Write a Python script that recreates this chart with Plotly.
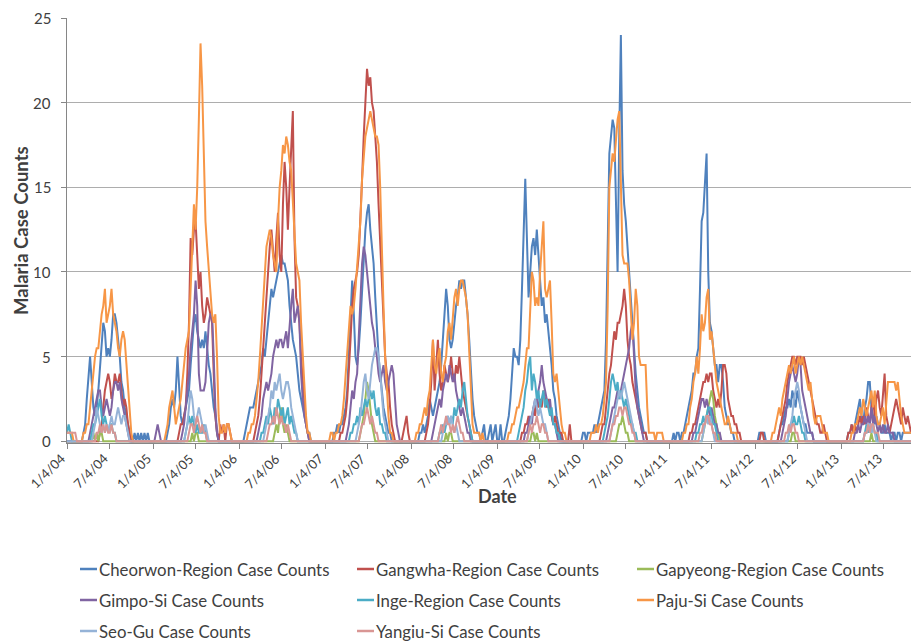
import datetime as dt
import plotly.graph_objects as go

# Weekly malaria case counts, one value per week starting Sunday 2004-01-04.
# Each series is given as (first week index, consecutive weekly values);
# weeks not listed had no cases.
N_WEEKS = 513
START = dt.date(2004, 1, 4)
END = dt.date(2013, 10, 27)

TICK_LABELS = ["1/4/04", "7/4/04", "1/4/05", "7/4/05", "1/4/06", "7/4/06",
               "1/4/07", "7/4/07", "1/4/08", "7/4/08", "1/4/09", "7/4/09",
               "1/4/10", "7/4/10", "1/4/11", "7/4/11", "1/4/12", "7/4/12",
               "1/4/13", "7/4/13"]
Y_TICKS = [0, 5, 10, 15, 20, 25]

SERIES_NAMES = ["Cheorwon-Region Case Counts", "Gangwha-Region Case Counts",
                "Gapyeong-Region Case Counts", "Gimpo-Si Case Counts",
                "Inge-Region Case Counts", "Paju-Si Case Counts",
                "Seo-Gu Case Counts", "Yangiu-Si Case Counts"]

SERIES_COLORS = ["#4F81BD", "#C0504D", "#9BBB59", "#8064A2",
                 "#4BACC6", "#F79646", "#95B3D7", "#D99694"]

CHEORWON = [
    (10, [0.5, 1, 2.5, 4, 5, 3.5, 2, 1.5, 2, 3, 4.5, 5.5, 7, 6.5, 5, 5.5, 5, 6, 7.5, 7.5,
          7, 6, 5, 3.5, 3, 2, 1.5, 1, 0.5, 0, 0, 0.5, 0, 0.5, 0, 0.5, 0, 0.5, 0, 0.5]),
    (60, [0, 0.5, 1, 2, 2.5, 2, 3, 5, 3.5, 1.5, 1, 1.5, 2, 2.5, 3, 4.5, 6, 7, 7.5, 6.5,
          6, 5.5, 6, 5.5, 6.5, 5.5, 4.5, 4, 3, 2, 1.5, 0.5, 0]),
    (108, [0.5, 1, 1.5, 2, 2, 2, 2.5, 3, 3.5, 4, 4.5, 5.5, 5, 6, 7, 8, 9, 8.5, 9, 9.5,
           10, 10.5, 11, 10.5, 10.5, 10, 9.5, 8, 7, 6, 5.5, 5, 4, 3, 2.5, 2, 1.5, 1, 0.5, 0.5, 0]),
    (162, [0.5, 0.5, 1, 0.5, 1, 1, 1.5, 2, 3, 5, 7, 9.5, 7.5, 5, 4.5, 5.5, 7, 9, 11, 12.5,
           13.5, 14, 12.5, 11.5, 10.5, 8.5, 6.5, 5, 4, 3, 2, 1.5, 1, 0.5, 0.5, 0]),
    (214, [0.5, 0.5, 1, 0.5, 1, 1.5, 2.5, 2, 1.5, 2, 2.5, 3, 3.5, 4.5, 6, 7.5, 9, 8, 6, 5.5,
           6, 7, 8, 8.5, 9.5, 9, 9.5, 9.5, 8.5, 7.5, 6, 4, 2.5, 1.5, 1, 0.5, 0.5, 0, 0.5, 1,
           0, 0, 0.5, 1, 0, 0.5, 1, 0, 0, 1, 0]),
    (266, [0.5, 1, 1.5, 2.5, 4, 5.5, 5, 5, 4.5, 6, 9, 13, 15.5, 12, 8.5, 10, 11.5, 12, 11, 12.5,
           11, 9, 8, 8.5, 7, 7.5, 6.5, 5.5, 4.5, 3, 2.5, 1.5, 1, 0.5, 0]),
    (313, [0.5, 0.5, 0, 0.5, 0.5, 0.5, 0.5, 1, 0.5, 1, 1.5, 2, 2.5, 3, 6, 12, 17, 18, 19, 18.5,
           14, 10, 18, 24, 16, 14, 13, 11.5, 9.5, 8, 6.5, 5, 4, 3, 2, 1.5, 1, 0.5, 0.5, 0]),
    (368, [0.5, 0, 0.5, 0.5, 0, 0.5, 0.5, 1, 1.5, 2, 2.5, 3, 4, 4, 5, 5.5, 9, 13, 13.5, 15,
           17, 10, 7, 6.5, 5.5, 4.5, 4.5, 3.5, 4.5, 4.5, 3.5, 2, 1.5, 1, 1, 0.5, 0.5, 0]),
    (420, [0.5, 0.5, 0.5, 0.5, 0, 0, 0, 0, 0, 0, 0, 0, 0.5, 1, 1, 1.5, 2, 2, 2.5, 2,
           3, 2.5, 2, 3, 2.5, 2, 1.5, 1, 1, 0.5, 0.5, 0.5, 0.5, 0]),
    (474, [0.5, 0.5, 1, 0.5, 1, 1.5, 2, 2.5, 1.5, 1, 2, 2.5, 3.5, 3.5, 2, 1.5, 1, 1.5, 1, 1,
           0.5, 0.5, 1, 0.5, 0.5, 0.5, 0, 0.5, 0.5, 0, 0.5, 0.5, 0, 0.5, 0.5, 0.5, 0.5, 0.5, 0.5]),
]

GANGWHA = [
    (20, [0.5, 1, 2, 3, 3.5, 4, 3.5, 2.5, 3, 4, 3.5, 3.5, 4, 3, 2, 2.5, 2, 1, 0.5, 0]),
    (68, [0.5, 1, 1, 1.5, 2, 4, 7, 12, 11, 12.5, 13, 11, 9, 10, 8, 7, 7.5, 8.5, 8, 7.5,
          7, 4, 1.5, 0.5, 0, 1, 0.5, 1, 0, 1, 1, 0.5, 0]),
    (114, [0.5, 1, 1.5, 2.5, 4, 6, 7.5, 9, 10.5, 11.5, 12.5, 11, 10, 12, 13.5, 11, 10, 14, 16.5, 15,
           12.5, 15, 17.5, 19.5, 12, 8.5, 8, 7, 5, 3.5, 2, 1, 0.5, 0]),
    (166, [0.5, 0.5, 1, 1.5, 2.5, 4, 6, 8, 9, 9.5, 10, 11, 13, 15.5, 18, 20, 22, 21, 21.5, 20,
           19.5, 18, 16.5, 14, 11.5, 9, 7, 5, 4, 3.5, 2, 1, 0.5, 0, 0, 0, 0, 0, 0.5, 1,
           1.5, 0.5, 0]),
    (218, [0.5, 1, 2, 3.5, 6, 3, 4.5, 6, 4, 3, 3.5, 4.5, 4, 3.5, 4, 5, 4, 3.5, 4.5, 4,
           5, 4, 3, 2.5, 2, 1.5, 1, 0.5, 0]),
    (276, [0.5, 0.5, 1, 1, 1.5, 1, 1.5, 2, 1.5, 2.5, 2, 2.5, 2, 3, 2.5, 2, 2.5, 2, 1.5, 1,
           1.5, 1, 0.5, 0.5, 0.5, 0, 0, 0, 0, 1, 0]),
    (324, [0.5, 1, 1, 2, 3, 4, 4.5, 5.5, 6.5, 6, 7, 7, 7.5, 8, 9, 8, 6, 5, 4.5, 3.5,
           3, 2.5, 2, 1.5, 1, 0.5, 0.5, 0.5, 0]),
    (378, [0.5, 0.5, 1, 1, 1.5, 2, 2.5, 3, 3.5, 3.5, 4, 3.5, 4, 4, 3, 2.5, 2, 2.5, 2, 3,
           4.5, 4.5, 4, 2.5, 2, 1.5, 1.5, 1, 1, 0.5, 0.5, 0]),
    (421, [0.5, 0.5, 0, 0, 0, 0, 0, 0, 0, 0, 0, 0.5, 1, 1.5, 2, 2.5, 3.5, 4, 4.5, 5,
           5, 4.5, 5, 5, 5, 4.5, 5, 4.5, 4, 3.5, 3, 2.5, 2, 1.5, 1, 1, 0.5, 0.5, 1, 0.5, 0]),
    (474, [0.5, 0.5, 1, 0.5, 1, 0.5, 1, 1.5, 1, 1.5, 1, 2, 1.5, 1, 2, 2.5, 1.5, 2.5, 3, 2,
           1.5, 3, 4, 1.5, 1, 0.5, 1, 1.5, 2, 2.5, 2, 1.5, 1, 2, 1.5, 1, 1.5, 1, 0.5]),
]

GAPYEONG = [
    (16, [0.5, 0, 0.5, 0, 0.5, 0.5, 0]),
    (76, [0.5, 0, 0.5, 0.5, 0]),
    (126, [0.5, 1, 0.5, 1.5, 2, 1, 0.5, 1, 0.5, 0]),
    (178, [0.5, 1, 1.5, 2.5, 3.5, 3, 2, 1, 0.5, 0]),
    (230, [0.5, 0, 0.5, 0.5, 0]),
    (282, [0.5, 0.5, 0, 0.5, 0]),
    (334, [0.5, 1, 1, 1.5, 1, 0.5, 0.5, 0]),
    (386, [0.5, 1, 1.5, 2, 2.5, 3, 2.5, 1.5, 1, 0.5, 0]),
    (440, [0.5, 0.5, 0]),
    (488, [0.5, 0]),
]

GIMPO = [
    (14, [0.5, 1, 1.5, 2, 2.5, 3, 3, 2, 1.5, 2, 2.5, 2, 1.5, 2, 3, 3.5, 3.5, 3, 3.5, 2.5,
          2, 1.5, 1, 0.5, 0]),
    (54, [0.5, 1, 0.5, 0]),
    (70, [0.5, 1, 2, 3, 4, 5.5, 6.5, 7.5, 9.5, 8, 4, 3, 3, 3, 3.5, 5, 7, 7.5, 7.5, 5,
          2, 0.5, 0]),
    (116, [0.5, 1, 1.5, 2.5, 3, 3.5, 3, 3.5, 4, 5, 5.5, 6, 5.5, 6, 6, 5.5, 6, 6.5, 5.5, 7,
           8, 9, 7, 7.5, 8, 7, 4, 2.5, 1.5, 1, 0.5, 0]),
    (170, [0.5, 1, 2, 3, 2.5, 3.5, 4, 6, 8.5, 10.5, 11.5, 11, 10, 9, 8, 7, 6.5, 5.5, 5, 4,
           3.5, 4, 4.5, 3.5, 3, 3.5, 4, 4.5, 4, 2.5, 1, 0.5, 0]),
    (222, [0.5, 1, 1.5, 2, 2.5, 2, 3, 3.5, 4, 3.5, 4.5, 4, 3.5, 4, 3, 2.5, 2, 1.5, 2, 1.5,
           1, 0.5, 0.5, 0]),
    (278, [0.5, 0.5, 1, 1.5, 1, 2, 2.5, 2, 3, 3.5, 4.5, 3.5, 3, 2.5, 2, 2.5, 1.5, 1, 1, 0.5, 0]),
    (328, [0.5, 1, 1.5, 2, 2, 2.5, 3, 2.5, 3, 3.5, 4, 4.5, 5, 5.5, 6.5, 7, 5, 3, 2, 1.5,
           1, 0.5, 0]),
    (380, [0.5, 0.5, 1, 1.5, 2, 2.5, 2.5, 2, 2.5, 2, 1.5, 2, 1.5, 1, 1, 0.5, 0.5, 0]),
    (434, [0.5, 1, 1.5, 2.5, 3.5, 4, 4.5, 4, 3.5, 4, 5, 4.5, 3, 2.5, 2, 1.5, 1, 0.5, 0.5, 0]),
    (478, [0.5, 0.5, 1, 0.5, 1, 1, 1.5, 1, 1.5, 1, 2, 1, 1.5, 1, 0.5, 1, 0.5, 1, 0.5, 0.5,
           1, 0.5, 0.5, 0.5, 0]),
]

INGE = [
    (0, [0.5, 1, 0.5, 0]),
    (15, [0.5, 1, 1, 1.5, 2, 2.5, 1.5, 1, 1.5, 1, 0.5, 1, 1, 0.5, 0.5, 0]),
    (72, [0.5, 1, 1.5, 1, 1.5, 1, 0.5, 1, 0.5, 0.5, 0.5, 1, 0.5, 0]),
    (118, [0.5, 0.5, 1, 1.5, 1, 2, 1.5, 1, 2, 1.5, 2.5, 2, 1.5, 2, 1, 1.5, 2, 1, 1.5, 1,
           0.5, 0.5, 0]),
    (172, [0.5, 0.5, 1, 1, 1.5, 1, 2, 1.5, 2, 2.5, 2, 2.5, 3, 2.5, 3, 2, 1.5, 2, 1, 1,
           0.5, 0.5, 0]),
    (226, [0.5, 0.5, 1, 0.5, 1, 1.5, 1, 1.5, 1, 2, 1.5, 2, 2.5, 2, 3, 3.5, 2.5, 1.5, 1, 0.5, 0]),
    (274, [0.5, 1, 1.5, 2, 3, 3.5, 4.5, 5, 3, 4, 3.5, 2.5, 3, 2, 2.5, 3, 2, 2.5, 2, 1.5,
           2, 1, 1, 0.5, 0.5, 0]),
    (326, [0.5, 1, 1.5, 2.5, 3.5, 4, 3.5, 3, 3.5, 2.5, 3, 2.5, 2, 2.5, 2, 1.5, 1, 1, 0.5, 0.5, 0]),
    (382, [0.5, 0.5, 1, 1, 1.5, 1, 1.5, 2, 2, 1.5, 1, 1, 0.5, 0]),
    (438, [0.5, 1, 1, 1.5, 1, 1, 1.5, 1, 0.5, 0.5, 0]),
    (484, [0.5, 1, 0.5, 1, 0.5, 1, 0.5, 0.5, 0]),
]

PAJU = [
    (0, [0.5, 0.5, 0.5, 0.5, 0]),
    (10, [0.5, 0.5, 1, 1, 2, 3, 4, 5, 5.5, 5.5, 6.5, 7.5, 8, 9, 7, 7.5, 8, 9, 7.5, 7,
          6.5, 5.5, 5, 6, 6.5, 6, 4.5, 3, 1.5, 0.5, 0]),
    (60, [0.5, 1, 2, 2.5, 3, 2, 1, 1.5, 2, 2.5, 3.5, 4.5, 5.5, 6, 6.5, 9, 12, 14, 12.5, 15,
          19, 23.5, 21, 16, 13, 11.5, 10, 8.5, 7.5, 7, 7.5, 5, 1.5, 0.5, 0.5, 1, 0.5, 1, 1, 0.5, 0]),
    (110, [0.5, 0.5, 1, 1, 1.5, 2.5, 3.5, 5, 6.5, 8.5, 10, 11.5, 12, 12.5, 12, 11, 10.5, 10, 13, 15,
           16, 17.5, 17, 18, 17.5, 16.5, 16, 14, 12, 10.5, 10, 9.5, 7, 5, 3, 1.5, 0.5, 0.5, 0]),
    (160, [0.5, 0.5, 0, 0.5, 0.5, 1, 1, 1.5, 2.5, 4, 5.5, 7, 8, 7.5, 8, 9, 10.5, 12, 13, 15.5,
           17, 18, 18.5, 19, 19.5, 19, 18.5, 18, 18, 17.5, 15, 11, 8, 5, 3, 1.5, 0.5, 0.5, 0]),
    (212, [0.5, 0.5, 1, 1, 1.5, 2, 1.5, 2.5, 3, 4.5, 6, 4.5, 4, 5, 5.5, 4, 3.5, 4.5, 5, 6.5,
           7, 6, 7.5, 8.5, 9, 8, 9, 9.5, 9.5, 9, 8.5, 7.5, 5, 2.5, 1, 0.5, 0.5, 0.5, 0.5, 0, 0.5]),
    (268, [0.5, 0.5, 1, 1, 1.5, 2, 2, 2.5, 3, 3.5, 4.5, 5.5, 5.5, 8, 10, 9.5, 8, 8.5, 8, 10,
           11.5, 13, 9, 8.5, 9, 9.5, 7, 4, 3.5, 4, 3, 2, 1, 0.5, 0.5, 0]),
    (318, [0.5, 0.5, 0.5, 1, 0.5, 1, 1, 1.5, 2.5, 3.5, 8, 15, 16, 17, 16.5, 18, 19, 19.5, 16, 11,
           10.5, 10.5, 10.5, 9.5, 8, 6, 7, 9, 8, 5, 4.5, 4.5, 4.5, 4.5, 2, 0.5, 0.5, 0.5, 0.5, 0,
           0.5, 0.5, 0.5, 0.5, 0]),
    (374, [0.5, 0.5, 1, 1, 2, 2.5, 3.5, 4, 5, 4, 5.5, 7.5, 6.5, 7, 8.5, 9, 6, 6.5, 5.5, 4.5,
           3.5, 3, 2.5, 2, 1.5, 1, 1, 1.5, 1, 0.5, 0.5, 0.5, 0.5, 0]),
    (428, [0.5, 0.5, 1, 1.5, 2, 1.5, 2.5, 3, 3.5, 4, 4.5, 4, 4.5, 5, 4, 4.5, 5, 4.5, 5, 4.5,
           4, 3.5, 3, 3.5, 2.5, 1.5, 1, 1.5, 1.5, 1.5, 1, 0.5, 0.5, 0.5, 0]),
    (476, [0.5, 0.5, 1, 1, 1.5, 2, 1.5, 2.5, 2, 1.5, 2, 2.5, 3, 2, 3, 1.5, 1, 1, 1.5, 2,
           1, 2.5, 3.5, 3.5, 3.5, 3.5, 3.5, 3, 3.5, 2.5, 1.5, 1, 0.5, 0.5, 0.5, 0.5, 0.5]),
]

SEOGU = [
    (16, [0.5, 1, 2, 1.5, 1, 0.5, 1, 0.5, 1, 0.5, 1, 1.5, 1, 1, 1.5, 2, 1.5, 1, 1.5, 1.5,
          1, 0.5, 0]),
    (72, [0.5, 1, 2, 3, 2.5, 1.5, 1, 1.5, 2, 1.5, 1, 0.5, 1, 0.5, 0]),
    (120, [0.5, 1, 1.5, 2, 3, 2.5, 3.5, 3, 3.5, 4, 3, 2.5, 3, 3.5, 3.5, 3, 2, 1.5, 1, 0.5, 0]),
    (176, [0.5, 1, 1.5, 2.5, 3.5, 4, 3, 2.5, 3.5, 4.5, 5, 5.5, 5.5, 5, 4, 2.5, 1.5, 1, 0.5, 0]),
    (228, [0.5, 1, 1, 1.5, 1, 1.5, 1, 0.5, 1, 0.5, 0]),
    (280, [0.5, 1, 1.5, 2, 2.5, 2, 1.5, 2, 1.5, 1, 1, 0.5, 0]),
    (330, [0.5, 1, 1.5, 2, 2.5, 3, 2.5, 3, 3.5, 3, 2.5, 2, 1.5, 1, 0.5, 0]),
    (386, [0.5, 1, 1.5, 1, 1.5, 1, 0.5, 0]),
    (438, [0.5, 1, 1.5, 2.5, 3, 3.5, 3, 2, 1.5, 1, 0.5, 0]),
    (484, [0.5, 0.5, 1, 1, 0.5, 1, 0.5, 0]),
]

YANGIU = [
    (0, [0.5, 0.5, 0.5, 0.5, 0.5, 0.5, 0]),
    (18, [0.5, 0.5, 1, 0.5, 1, 0.5, 1, 0.5, 0.5, 1, 0.5, 0.5, 0]),
    (74, [0.5, 1, 1, 0.5, 1, 1.5, 1, 0.5, 1, 0.5, 0.5, 0]),
    (122, [0.5, 1, 1, 1.5, 1, 2, 1.5, 1, 1.5, 1, 1, 0.5, 1, 0.5, 0]),
    (178, [0.5, 1, 1, 1.5, 2, 1.5, 1, 1.5, 1, 0.5, 0.5, 0]),
    (226, [0.5, 1, 0.5, 1, 1.5, 1, 1, 0.5, 1, 0.5, 1, 1.5, 1, 0.5, 0.5, 0]),
    (280, [0.5, 1, 0.5, 1, 1, 1.5, 1, 0.5, 1, 1, 0.5, 0.5, 0]),
    (330, [0.5, 1, 1, 1.5, 1.5, 2, 2, 1.5, 2, 2, 1.5, 1, 1, 0.5, 0.5, 0]),
    (384, [0.5, 0.5, 1, 1, 1.5, 1.5, 1, 1, 0.5, 0.5, 0]),
    (436, [0.5, 0.5, 1, 0.5, 1, 1, 0.5, 0.5, 0]),
    (484, [0.5, 0.5, 1, 0.5, 1, 1, 0.5, 0.5, 0.5, 0]),
]

ALL_SERIES = [CHEORWON, GANGWHA, GAPYEONG, GIMPO, INGE, PAJU, SEOGU, YANGIU]


def weekly_values(segments):
    values = [0.0] * N_WEEKS
    for first_week, run in segments:
        for offset, v in enumerate(run):
            values[first_week + offset] = v
    return values


dates = [START + dt.timedelta(weeks=i) for i in range(N_WEEKS)]


def label_to_date(label):
    m, d, y = (int(p) for p in label.split("/"))
    return dt.date(2000 + y, m, d)


tick_dates = [label_to_date(t) for t in TICK_LABELS]

FONT = "Lato, 'Open Sans', sans-serif"
TEXT_COLOR = "#404040"
AXIS_COLOR = "#868686"

fig = go.Figure()
for name, color, segs in zip(SERIES_NAMES, SERIES_COLORS, ALL_SERIES):
    fig.add_trace(go.Scatter(
        x=dates, y=weekly_values(segs), name=name, mode="lines",
        line=dict(color=color, width=2), showlegend=False,
        hovertemplate="%{x|%-m/%-d/%y}: %{y}<extra>" + name + "</extra>",
    ))

# Plot-area geometry in pixels (used to place the legend and titles).
FIG_W, FIG_H = 911, 641
L, R, T, B = 67, 911, 18, 443


def px_x(x):
    return (x - L) / (R - L)


def px_y(y):
    return (B - y) / (B - T)


fig.update_layout(
    width=FIG_W, height=FIG_H,
    margin=dict(l=L, r=FIG_W - R, t=T, b=FIG_H - B, pad=0),
    paper_bgcolor="white", plot_bgcolor="white",
    font=dict(family=FONT, color=TEXT_COLOR, size=14),
    showlegend=False,
)

fig.update_xaxes(
    type="date", range=[START, END], automargin=False,
    tickmode="array", tickvals=tick_dates, showticklabels=False,
    showgrid=False, zeroline=False,
    showline=True, linecolor=AXIS_COLOR, linewidth=1,
    ticks="outside", ticklen=5, tickcolor=AXIS_COLOR,
)
fig.update_yaxes(
    range=[-0.1, 25], automargin=False,
    tickmode="array", tickvals=Y_TICKS, showticklabels=False,
    showgrid=True, gridcolor="#ADADAD", gridwidth=1, zeroline=False,
    showline=True, linecolor=AXIS_COLOR, linewidth=1,
    ticks="outside", ticklen=5, tickcolor=AXIS_COLOR,
)

annotations = []

# Value labels beside the vertical axis.
for v in Y_TICKS:
    annotations.append(dict(text=str(v), x=px_x(53), y=v, xref="paper", yref="y",
                            showarrow=False, xanchor="right", yanchor="middle",
                            font=dict(size=15, color=TEXT_COLOR)))

# Slanted date labels ending at their tick marks.
for d, t in zip(tick_dates, TICK_LABELS):
    annotations.append(dict(text=t, x=d, y=px_y(448), xref="x", yref="paper",
                            showarrow=False, textangle=-45, xshift=4,
                            xanchor="right", yanchor="top",
                            font=dict(size=13, color=TEXT_COLOR)))

annotations += [
    dict(text="<b>Malaria Case Counts</b>", x=px_x(21), y=px_y(231),
         xref="paper", yref="paper", textangle=-90, showarrow=False,
         font=dict(size=18.5, color=TEXT_COLOR), xanchor="center", yanchor="middle"),
    dict(text="<b>Date</b>", x=px_x(497), y=px_y(496),
         xref="paper", yref="paper", showarrow=False,
         font=dict(size=18, color=TEXT_COLOR), xanchor="center", yanchor="middle"),
]

# Legend: three columns, drawn as short line swatches with labels.
LEGEND_COLS = [80, 357, 637]
LEGEND_ROWS = [569, 600, 631]
shapes = []
for i, (name, color) in enumerate(zip(SERIES_NAMES, SERIES_COLORS)):
    lx = LEGEND_COLS[i % 3]
    ly = LEGEND_ROWS[i // 3]
    shapes.append(dict(type="line", xref="paper", yref="paper",
                       x0=px_x(lx), x1=px_x(lx + 17), y0=px_y(ly), y1=px_y(ly),
                       line=dict(color=color, width=2.5)))
    annotations.append(dict(text=name, x=px_x(lx + 17), y=px_y(ly),
                            xref="paper", yref="paper", showarrow=False,
                            xanchor="left", yanchor="middle",
                            font=dict(size=16.8, color=TEXT_COLOR)))

fig.update_layout(annotations=annotations, shapes=shapes)

fig.write_html("out.html")
